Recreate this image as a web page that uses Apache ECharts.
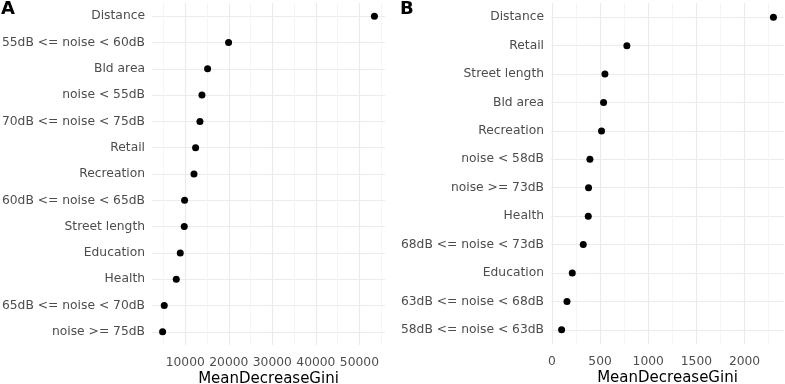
<!DOCTYPE html>
<html>
<head>
<meta charset="utf-8">
<script src="https://cdn.jsdelivr.net/npm/echarts@6/dist/echarts.min.js"></script>
<style>
  html, body { margin: 0; padding: 0; background: #fff; }
  #chart { width: 785px; height: 384px; }
</style>
</head>
<body>
<div id="chart"></div>
<script>
// panel A (top to bottom)
const catsA = ['Distance', '55dB <= noise < 60dB', 'Bld area', 'noise < 55dB', '70dB <= noise < 75dB',
  'Retail', 'Recreation', '60dB <= noise < 65dB', 'Street length', 'Education', 'Health',
  '65dB <= noise < 70dB', 'noise >= 75dB']
const valsA = [53450, 19950, 15130, 13830, 13370, 12370, 12000, 9840, 9770, 8850, 7930, 5170, 4790]
const ticksA = [10000, 20000, 30000, 40000, 50000]
const minorA = [5000, 15000, 25000, 35000, 45000, 55000]

// panel B (top to bottom)
const catsB = ['Distance', 'Retail', 'Street length', 'Bld area', 'Recreation', 'noise < 58dB',
  'noise >= 73dB', 'Health', '68dB <= noise < 73dB', 'Education', '63dB <= noise < 68dB',
  '58dB <= noise < 63dB']
const valsB = [2300, 778, 550, 536, 515, 394, 380, 377, 325, 211, 156, 100]
const ticksB = [0, 500, 1000, 1500, 2000]
const minorB = [250, 750, 1250, 1750, 2250]

const FONT = 'DejaVu Sans'
const MAJOR = { color: '#ebebeb', width: 1.1, type: 'solid' }
const MINOR = { color: '#f2f2f2', width: 0.8, type: 'solid' }

// ggplot style 5% expansion
function limits (vals) {
  const lo = Math.min(...vals)
  const hi = Math.max(...vals)
  const pad = (hi - lo) * 0.05
  return [lo - pad, hi + pad]
}

function xAxisOf (idx, vals, ticks) {
  const [min, max] = limits(vals)
  return {
    type: 'value',
    gridIndex: idx,
    min,
    max,
    axisLine: { show: false },
    axisTick: { show: false },
    splitLine: { show: false },
    axisLabel: {
      customValues: ticks,
      formatter: v => String(v),
      color: '#4d4d4d',
      fontSize: 12.3,
      fontFamily: FONT,
      margin: 12
    },
    name: 'MeanDecreaseGini',
    nameLocation: 'middle',
    nameGap: 27,
    nameMoveOverlap: false,
    nameTextStyle: { color: '#000', fontSize: 15, fontFamily: FONT }
  }
}

function yAxisOf (idx, cats) {
  return {
    type: 'category',
    gridIndex: idx,
    data: cats,
    inverse: true,
    axisLine: { show: false },
    axisTick: { show: false },
    splitLine: { show: false },
    axisLabel: { color: '#4d4d4d', fontSize: 12.3, fontFamily: FONT, margin: 7 }
  }
}

function dotSeries (idx, cats, vals, ticks, minor) {
  const grid = [
    ...cats.map(c => ({ yAxis: c, lineStyle: MAJOR })),
    ...ticks.map(v => ({ xAxis: v, lineStyle: MAJOR })),
    ...minor.map(v => ({ xAxis: v, lineStyle: MINOR }))
  ]
  return {
    type: 'scatter',
    xAxisIndex: idx,
    yAxisIndex: idx,
    symbolSize: 7,
    itemStyle: { color: '#000', opacity: 1 },
    data: vals.map((v, i) => [v, cats[i]]),
    z: 3,
    markLine: {
      z: 1,
      silent: true,
      animation: false,
      symbol: ['none', 'none'],
      label: { show: false },
      data: grid
    }
  }
}

const chart = echarts.init(document.getElementById('chart'))
chart.setOption({
  animation: false,
  grid: [
    { left: 152, right: 400, top: 3, bottom: 39, outerBoundsMode: 'none' },
    { left: 551, right: 1, top: 3, bottom: 40, outerBoundsMode: 'none' }
  ],
  xAxis: [xAxisOf(0, valsA, ticksA), xAxisOf(1, valsB, ticksB)],
  yAxis: [yAxisOf(0, catsA), yAxisOf(1, catsB)],
  series: [
    dotSeries(0, catsA, valsA, ticksA, minorA),
    dotSeries(1, catsB, valsB, ticksB, minorB)
  ],
  graphic: [
    { type: 'text', left: 1, top: 0, style: { text: 'A', font: 'bold 18px "DejaVu Sans"', fill: '#000' } },
    { type: 'text', left: 400, top: 0, style: { text: 'B', font: 'bold 18px "DejaVu Sans"', fill: '#000' } }
  ]
})
</script>
</body>
</html>
